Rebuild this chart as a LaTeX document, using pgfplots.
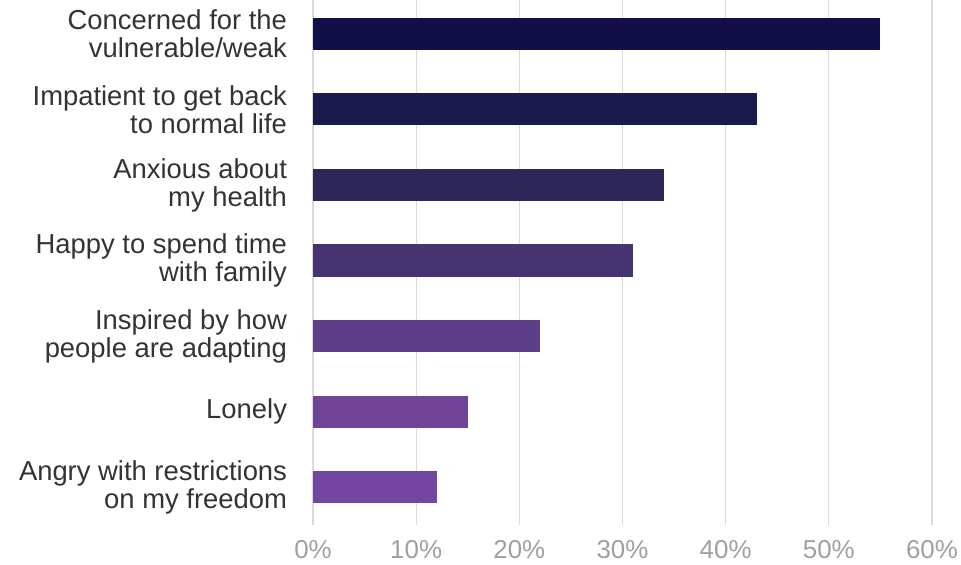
\documentclass[border=0pt]{standalone}
\usepackage{pgfplots}
\pgfplotsset{compat=1.18}
\usepackage{fontspec}
\setmainfont{Liberation Sans}
\usetikzlibrary{calc}
\definecolor{c1}{HTML}{110E48}
\definecolor{c2}{HTML}{1B1A4C}
\definecolor{c3}{HTML}{2D2659}
\definecolor{c4}{HTML}{463470}
\definecolor{c5}{HTML}{5D3F88}
\definecolor{c6}{HTML}{6F4496}
\definecolor{c7}{HTML}{7346A0}
\definecolor{labtxt}{HTML}{333333}
\definecolor{ticktxt}{HTML}{A0A0A0}
\definecolor{gridc}{HTML}{DADADA}
\begin{document}
\begin{tikzpicture}
\begin{axis}[
  scale only axis, width=619bp, height=525bp,
  xmin=0, xmax=60, ymin=-0.503, ymax=6.45,
  xbar, bar width=0.424, bar shift=0pt,
  axis line style={draw=none},
  xtick={0,10,...,60},
  xticklabel={\pgfmathprintnumber{\tick}\%},
  /pgf/number format/assume math mode=true,
  xmajorgrids, grid style={line width=1.3bp, color=gridc},
  major tick length=0pt,
  ytick={0,...,6},
  yticklabels={{Angry with restrictions\\on my freedom},{Lonely},{Inspired by how\\people are adapting},{Happy to spend time\\with family},{Anxious about\\my health},{Impatient to get back\\to normal life},{Concerned for the\\vulnerable/weak}},
  yticklabel style={align=right, font=\fontsize{27.5}{28}\selectfont, text=labtxt, xshift=-22.5bp},
  xticklabel style={font=\fontsize{26}{28}\selectfont, text=ticktxt, yshift=-12bp},
  clip=false,
]
\coordinate (bl) at (rel axis cs:0,0);
\addplot[fill=c7, draw=none] coordinates {(12,0)};
\addplot[fill=c6, draw=none] coordinates {(15,1)};
\addplot[fill=c5, draw=none] coordinates {(22,2)};
\addplot[fill=c4, draw=none] coordinates {(31,3)};
\addplot[fill=c3, draw=none] coordinates {(34,4)};
\addplot[fill=c2, draw=none] coordinates {(43,5)};
\addplot[fill=c1, draw=none] coordinates {(55,6)};
\end{axis}
\pgfresetboundingbox
\path[use as bounding box] ($(bl)+(-313bp,-40bp)$) rectangle ++(961bp,565bp);
\end{tikzpicture}
\end{document}
